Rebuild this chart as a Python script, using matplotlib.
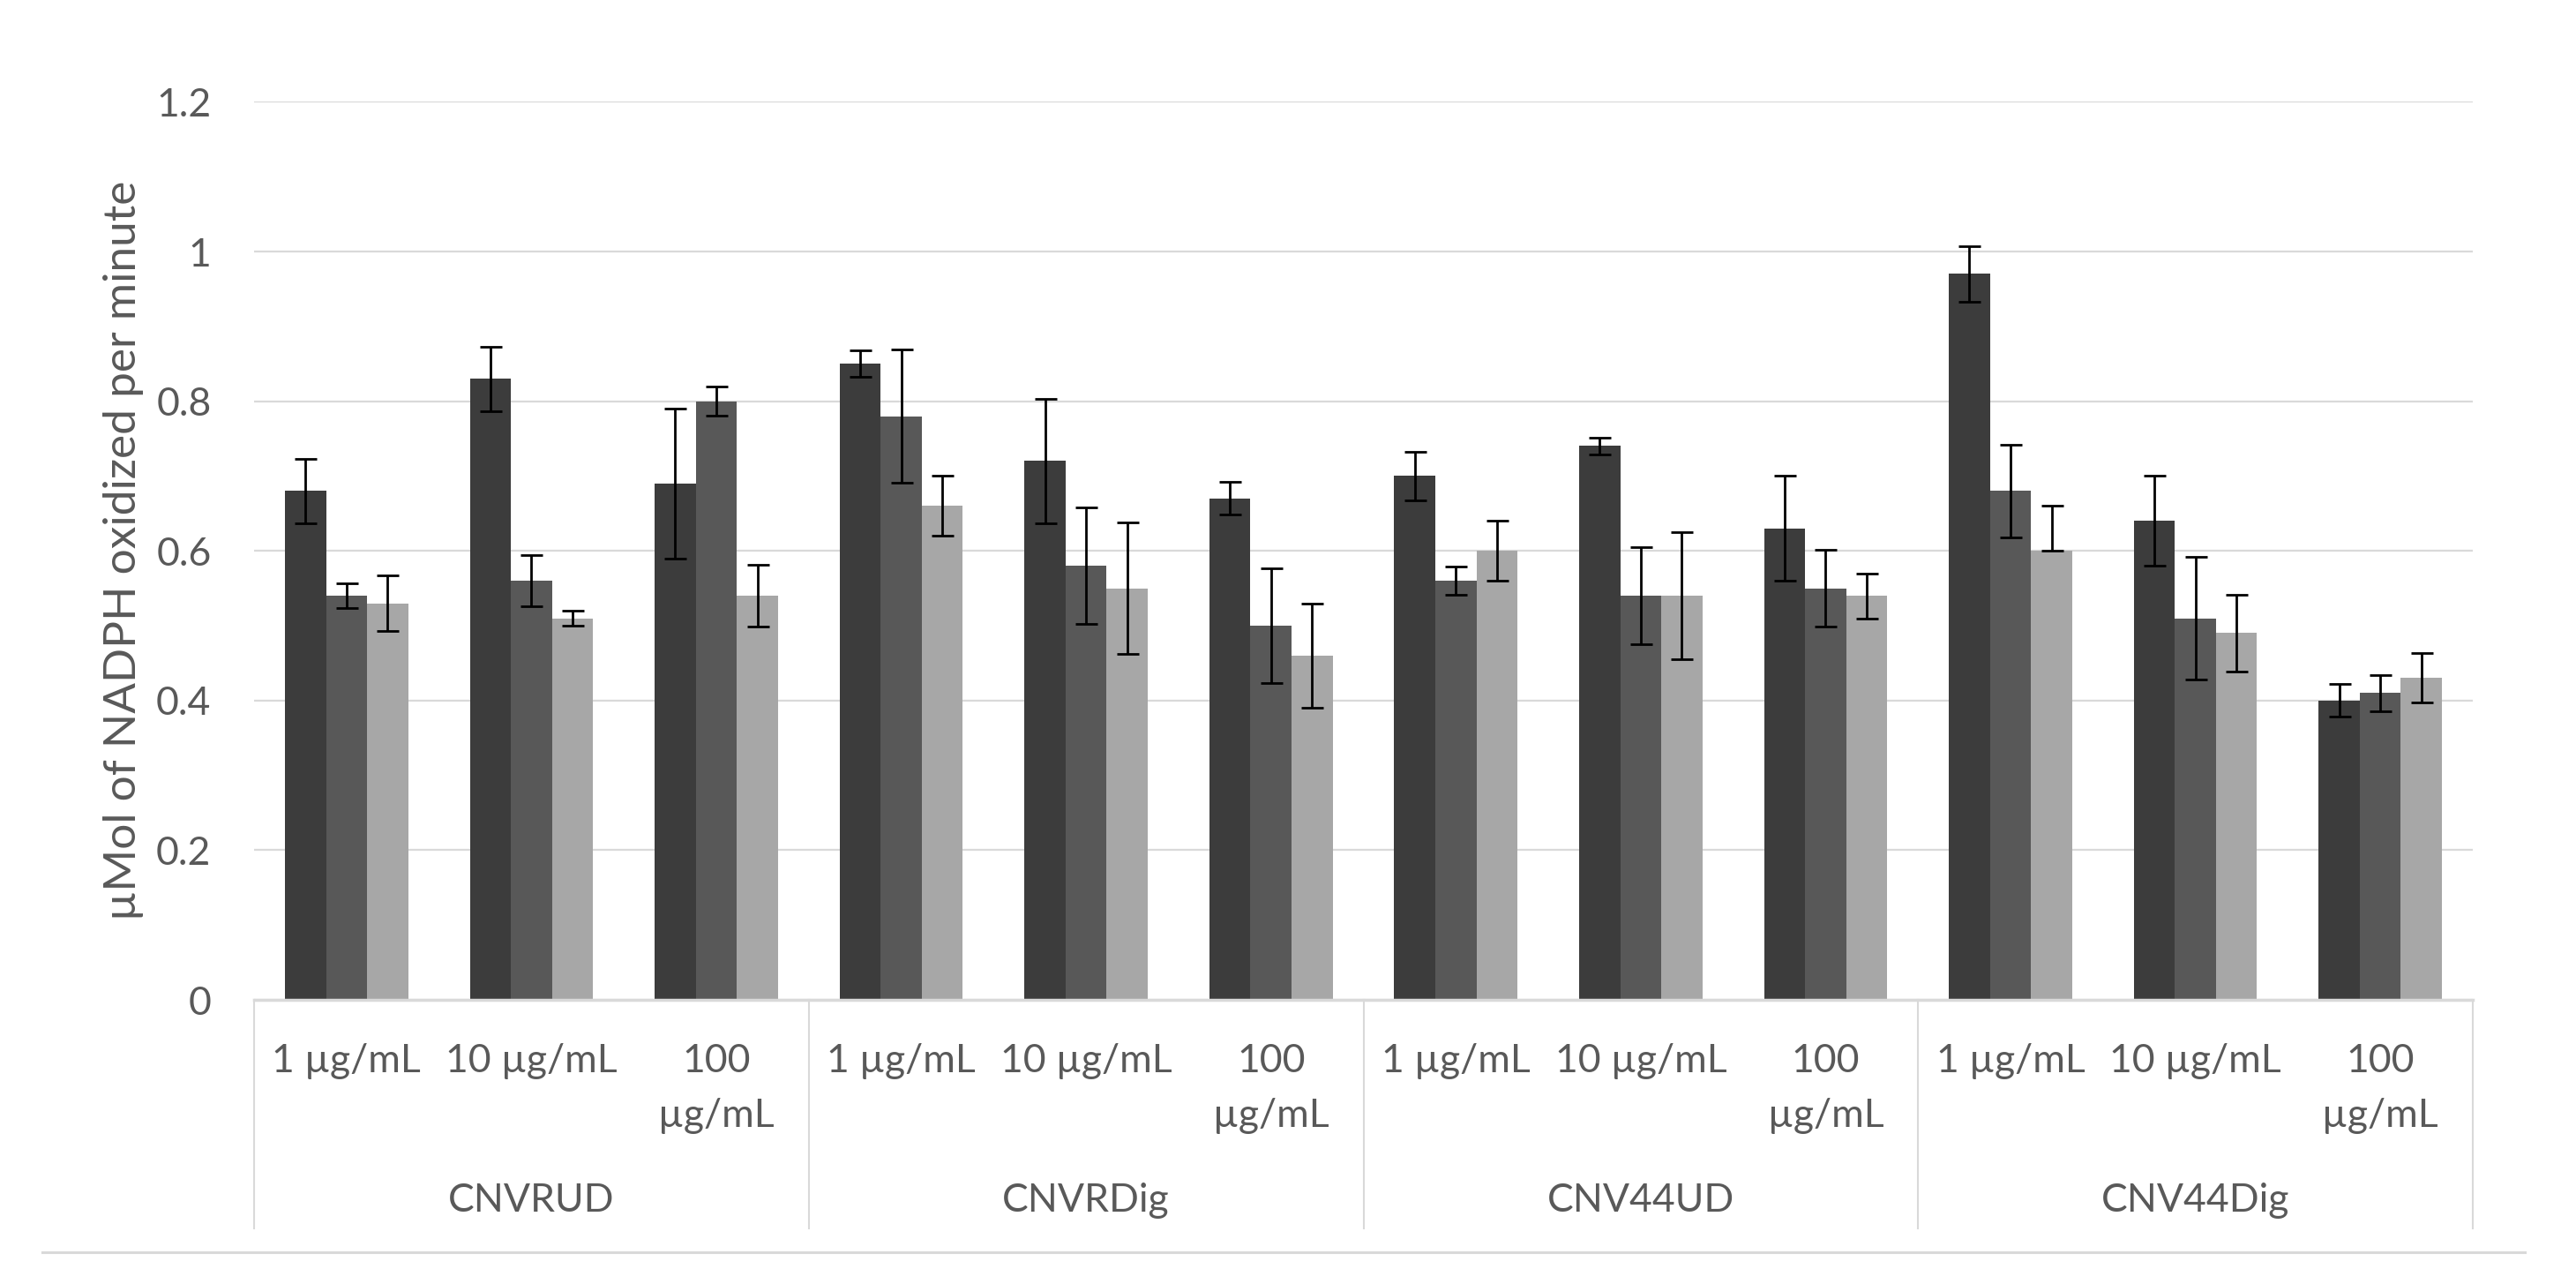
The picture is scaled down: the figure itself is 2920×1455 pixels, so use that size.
import matplotlib
matplotlib.use("Agg")
import matplotlib.pyplot as plt
import matplotlib.transforms as mtransforms
from matplotlib.lines import Line2D
import numpy as np

# ---- data ----
groups = ["CNVRUD", "CNVRDig", "CNV44UD", "CNV44Dig"]
concentrations = ["1 µg/mL", "10 µg/mL", "100\nµg/mL"]

series1 = [0.68, 0.83, 0.69, 0.85, 0.72, 0.67, 0.70, 0.74, 0.63, 0.97, 0.64, 0.40]
series1_err = [0.043, 0.043, 0.10, 0.018, 0.083, 0.022, 0.032, 0.011, 0.07, 0.037, 0.06, 0.022]
series2 = [0.54, 0.56, 0.80, 0.78, 0.58, 0.50, 0.56, 0.54, 0.55, 0.68, 0.51, 0.41]
series2_err = [0.017, 0.034, 0.019, 0.089, 0.078, 0.077, 0.019, 0.065, 0.051, 0.062, 0.082, 0.024]
series3 = [0.53, 0.51, 0.54, 0.66, 0.55, 0.46, 0.60, 0.54, 0.54, 0.60, 0.49, 0.43]
series3_err_upper = [0.037, 0.01, 0.041, 0.04, 0.088, 0.07, 0.04, 0.085, 0.03, 0.06, 0.051, 0.033]
series3_err_lower = [0.037, 0.01, 0.041, 0.04, 0.088, 0.07, 0.04, 0.085, 0.03, 0.0, 0.051, 0.033]

yticks = [0, 0.2, 0.4, 0.6, 0.8, 1.0, 1.2]
ytick_labels = ["0", "0.2", "0.4", "0.6", "0.8", "1", "1.2"]
ylabel = "µMol of NADPH oxidized per minute"

# ---- style ----
W, H = 2920, 1455
DPI = 100
FONT = "Lato"
TXT = "#595959"
GRID = "#d9d9d9"
colors = ["#3c3c3c", "#585858", "#a7a7a7"]

fig = plt.figure(figsize=(W / DPI, H / DPI), dpi=DPI)
fig.patch.set_facecolor("white")

x0, x1 = 288, 2803
y0, y1 = 1133, 115.4
ax = fig.add_axes([x0 / W, 1 - y0 / H, (x1 - x0) / W, (y0 - y1) / H])

n = len(groups) * len(concentrations)
xc = np.arange(n) + 0.5
bw = 2.0 / 9.0
series = [series1, series2, series3]
errs = [
    [series1_err, series1_err],
    [series2_err, series2_err],
    [series3_err_lower, series3_err_upper],
]
for k, (vals, err, col) in enumerate(zip(series, errs, colors)):
    xs = xc + (k - 1) * bw
    ax.bar(xs, vals, width=bw, color=col, edgecolor="none", zorder=2)
    ax.errorbar(xs, vals, yerr=err, fmt="none", ecolor="black",
                elinewidth=2.0, capsize=9, capthick=2.0, zorder=3)

ax.set_xlim(0, n)
ax.set_ylim(0, 1.2)
ax.set_yticks(yticks)
ax.set_yticklabels(ytick_labels, fontsize=32, color=TXT, family=FONT)
ax.tick_params(axis="y", length=0, pad=35)
ax.set_xticks([])
for s in ["top", "right", "left"]:
    ax.spines[s].set_visible(False)
ax.spines["bottom"].set_color(GRID)
ax.spines["bottom"].set_linewidth(2.5)
ax.yaxis.grid(True, color=GRID, linewidth=1.6, zorder=0)
ax.set_axisbelow(True)

# y label
ax.text(x=(140 - x0) / (x1 - x0), y=0.5, s=ylabel, transform=ax.transAxes,
        rotation=90, ha="center", va="center", fontsize=37, color=TXT,
        family=FONT)

# category axis labels
tr = mtransforms.blended_transform_factory(ax.transData, fig.transFigure)
def fy(py):
    return 1 - py / H

for gi, g in enumerate(groups):
    for ci, c in enumerate(concentrations):
        idx = gi * len(concentrations) + ci
        for li, line in enumerate(c.split("\n")):
            ax.text(xc[idx], fy(1215 + 62 * li), line, transform=tr,
                    ha="center", va="baseline", fontsize=32, color=TXT,
                    family=FONT, clip_on=False)
    gc = (gi + 0.5) * len(concentrations)
    ax.text(gc, fy(1373), g, transform=tr, ha="center", va="baseline",
            fontsize=32, color=TXT, family=FONT, clip_on=False)

for b in range(len(groups) + 1):
    xb = b * len(concentrations)
    ax.add_line(Line2D([xb, xb], [fy(1133), fy(1392)], transform=tr,
                       color=GRID, linewidth=1.5, clip_on=False))

# chart bottom border
fig.add_artist(Line2D([48 / W, 2862 / W], [fy(1419), fy(1419)],
                      transform=fig.transFigure, color=GRID, linewidth=2.2))

fig.savefig("out.png", dpi=DPI, facecolor="white")
